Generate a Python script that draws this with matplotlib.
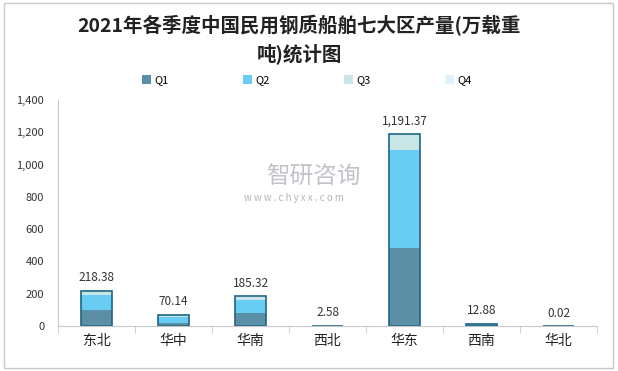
import numpy as np
import matplotlib.pyplot as plt
from matplotlib.patches import Rectangle

plt.rcParams['font.family'] = ['Noto Sans CJK SC', 'DejaVu Sans']

regions = ["东北", "华中", "华南", "西北", "华东", "西南", "华北"]
q1 = [100, 20, 83, 1.2, 485, 5.0, 0.01]
q2 = [92, 34, 78, 0.8, 605, 4.5, 0.01]
q3 = [20, 12, 20, 0.4, 95, 2.5, 0.0]
q4 = [6.38, 4.14, 4.32, 0.18, 6.37, 0.88, 0.0]
totals = [218.38, 70.14, 185.32, 2.58, 1191.37, 12.88, 0.02]

series = ["Q1", "Q2", "Q3", "Q4"]
colors = ["#5b8fa6", "#69cdf3", "#c8e6e6", "#dff3fb"]

fig = plt.figure(figsize=(6.18, 3.71), dpi=100)
fig.patches.append(Rectangle((0.006, 0.008), 0.986, 0.984, transform=fig.transFigure,
                             fill=False, edgecolor="#c8c8c8", linewidth=1))
ax = fig.add_axes([0.0939, 0.1213, 0.8721, 0.6092])

x = np.arange(len(regions))
bottom = np.zeros(len(regions))
for name, vals, c in zip(series, [q1, q2, q3, q4], colors):
    ax.bar(x, vals, width=0.4, bottom=bottom, color=c, label=name, linewidth=0)
    bottom += np.array(vals)
# outline of whole stack
ax.bar(x, bottom, width=0.4, fill=False, edgecolor="#1d6585", linewidth=1.2)

for xi, t in zip(x, totals):
    ax.text(xi, t + 40, f"{t:,.2f}", ha="center", va="bottom", fontsize=8.5, color="#333333")

ax.set_xlim(-0.5, len(regions) - 0.5)
ax.set_ylim(0, 1400)
ax.set_yticks(np.arange(0, 1401, 200))
ax.set_yticklabels([f"{v:,}" for v in range(0, 1401, 200)], fontsize=8, color="#333333")
ax.set_xticks(x)
ax.set_xticklabels(regions, fontsize=10, color="#222222")
ax.tick_params(axis="x", length=0, pad=6)
ax.set_xticks(np.arange(-0.5, len(regions)), minor=True)
ax.tick_params(axis="x", which="minor", length=5, color="#c8c8c8")
ax.tick_params(axis="y", length=0, pad=10)
for s in ["top", "right"]:
    ax.spines[s].set_visible(False)
ax.spines["left"].set_color("#c8c8c8")
ax.spines["bottom"].set_color("#c8c8c8")

# watermark
fig.text(0.507, 0.522, "智研咨询", fontsize=17, color="#b0b4bc", ha="center", va="center", alpha=0.8)
fig.text(0.475, 0.465, "w w w . c h y x x . c o m", fontsize=7, color="#b0b4bc", ha="center", va="center")

fig.text(0.484, 0.893, "2021年各季度中国民用钢质船舶七大区产量(万载重\n吨)统计图",
         ha="center", va="center", fontsize=14, fontweight="bold", color="#222222",
         linespacing=1.4)

handles, labels = ax.get_legend_handles_labels()
fig.legend(handles, labels, loc="center", bbox_to_anchor=(0.497, 0.784), ncol=4,
           frameon=False, fontsize=8, handlelength=0.8, handleheight=0.8,
           handletextpad=0.3, columnspacing=6.7)

fig.savefig("out.png", dpi=100)
